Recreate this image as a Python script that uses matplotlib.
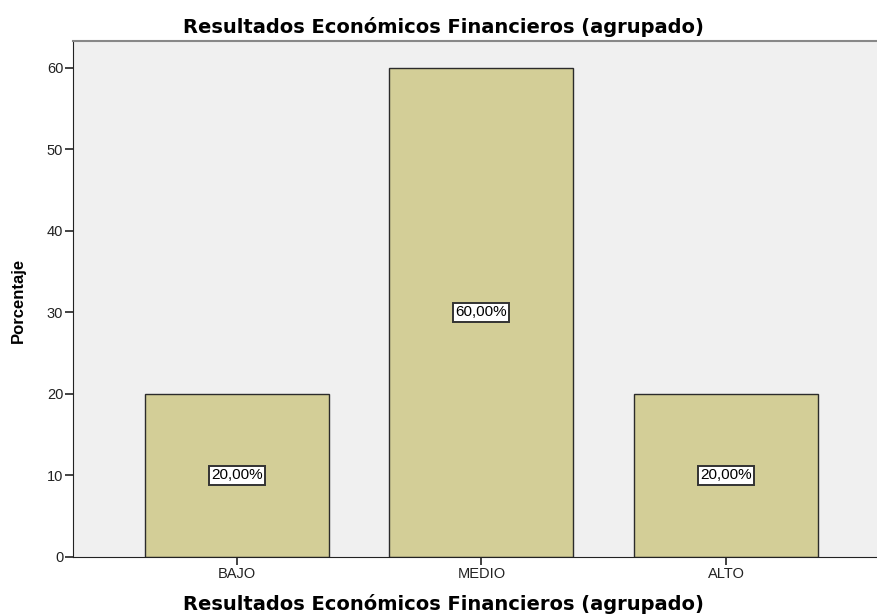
import matplotlib.pyplot as plt
import numpy as np

plt.rcParams['font.family'] = ['Liberation Sans', 'DejaVu Sans']

categories = ['BAJO', 'MEDIO', 'ALTO']
porcentaje = [20.0, 60.0, 20.0]
labels = ['20,00%', '60,00%', '20,00%']

fig = plt.figure(figsize=(8.77, 6.14), dpi=100)
ax = fig.add_axes([73 / 877, 1 - 557 / 614, 1 - 73 / 877, (557 - 41) / 614])

x = np.arange(len(categories))
ax.bar(x, porcentaje, width=0.752, color='#d3ce97', edgecolor='#2b2b2b', linewidth=1.0, zorder=2)
ax.set_facecolor('#f0f0f0')
ax.set_xlim(-0.669, 2.617)
ax.set_ylim(0, 63.3)
ax.set_yticks(range(0, 61, 10))
ax.set_xticks(x)
ax.set_xticklabels(categories)
ax.tick_params(axis='both', labelsize=10.5, length=5.5, width=1.2, direction='out',
               colors='#222222', pad=1.5)

ax.spines['right'].set_visible(False)
ax.spines['top'].set_color('#888888')
ax.spines['top'].set_linewidth(1.5)
ax.spines['left'].set_color('#222222')
ax.spines['bottom'].set_color('#222222')

for xi, v, lab in zip(x, porcentaje, labels):
    ax.text(xi, v / 2, lab, ha='center', va='center', fontsize=11, zorder=3,
            bbox=dict(boxstyle='square,pad=0.15', fc='white', ec='#333333', lw=1.4))

title = 'Resultados Económicos Financieros (agrupado)'
fig.text(443 / 877, 1 - 27 / 614, title, ha='center', va='center',
         fontsize=14, fontweight='bold', family='DejaVu Sans')
fig.text(443 / 877, 1 - 604 / 614, title, ha='center', va='center',
         fontsize=14, fontweight='bold', family='DejaVu Sans')
fig.text(18 / 877, 1 - 300 / 614, 'Porcentaje', rotation=90,
         ha='center', va='center', fontsize=12, fontweight='bold')

fig.savefig('out.png', dpi=100)
